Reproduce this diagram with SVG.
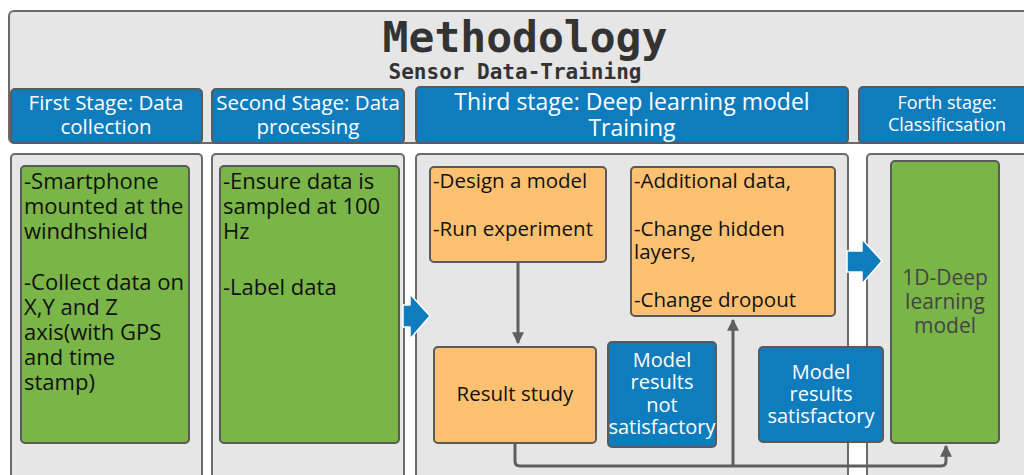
<svg xmlns="http://www.w3.org/2000/svg" width="1024" height="475" viewBox="0 0 1024 475">
  <style>
    .frame { fill: #e6e6e6; stroke: #6a6a6a; stroke-width: 2; }
    .head { fill: #0f7cbd; stroke: #5a5a5a; stroke-width: 2; }
    .head-t { fill: #ffffff; font-family: "Open Sans", "Liberation Sans", sans-serif; text-anchor: middle; }
    .green { fill: #7ab547; stroke: #5a5a5a; stroke-width: 2; }
    .orange { fill: #fec171; stroke: #5a5a5a; stroke-width: 2; }
    .blue { fill: #0f7cbd; stroke: #5a5a5a; stroke-width: 2; }
    .body-t { fill: #111111; font-family: "Open Sans", "Liberation Sans", sans-serif; font-size: 22px; }
    .step-t { fill: #111111; font-family: "Open Sans", "Liberation Sans", sans-serif; font-size: 20.5px; }
    .dark-t { fill: #444444; font-family: "Open Sans", "Liberation Sans", sans-serif; font-size: 21px; text-anchor: middle; }
    .blue-t { fill: #ffffff; font-family: "Open Sans", "Liberation Sans", sans-serif; font-size: 20px; text-anchor: middle; }
    .link { fill: none; stroke: #5f5f5f; stroke-width: 3; stroke-linejoin: round; }
    .chev { fill: #0f7cbd; stroke: #ffffff; stroke-width: 1.5; stroke-linejoin: round; }
  </style>
  <defs>
    <marker id="tip" viewBox="0 0 10 10" refX="9" refY="5" markerWidth="4" markerHeight="4.4" orient="auto" markerUnits="strokeWidth">
      <path d="M0,0 L10,5 L0,10 z" fill="#5f5f5f"/>
    </marker>
  </defs>

  <rect width="1024" height="475" fill="#ffffff"/>

  <!-- title frame -->
  <g id="title">
    <rect class="frame" x="9" y="11" width="1030" height="132" rx="5"/>
    <text x="525" y="52" text-anchor="middle" font-family="'DejaVu Sans Mono', 'Liberation Mono', monospace" font-weight="bold" font-size="43" fill="#333333">Methodology</text>
    <text x="515" y="79" text-anchor="middle" font-family="'DejaVu Sans Mono', 'Liberation Mono', monospace" font-weight="bold" font-size="21" fill="#333333">Sensor Data-Training</text>
  </g>

  <!-- stage headers -->
  <g id="stage1-head">
    <rect class="head" x="11" y="89" width="191" height="54" rx="4"/>
    <text class="head-t" font-size="20.5" x="106" y="110">First Stage: Data</text>
    <text class="head-t" font-size="20.5" x="106" y="134">collection</text>
  </g>
  <g id="stage2-head">
    <rect class="head" x="212" y="89" width="192" height="54" rx="4"/>
    <text class="head-t" font-size="20.5" x="308" y="110">Second Stage: Data</text>
    <text class="head-t" font-size="20.5" x="308" y="134">processing</text>
  </g>
  <g id="stage3-head">
    <rect class="head" x="416" y="87" width="432" height="56" rx="4"/>
    <text class="head-t" font-size="23" x="632" y="110">Third stage: Deep learning model</text>
    <text class="head-t" font-size="23" x="632" y="136">Training</text>
  </g>
  <g id="stage4-head">
    <rect class="head" x="859" y="87" width="180" height="56" rx="4"/>
    <text class="head-t" font-size="18" x="947" y="109">Forth stage:</text>
    <text class="head-t" font-size="18" x="947" y="131">Classificsation</text>
  </g>

  <!-- stage panels -->
  <g id="panel1">
    <rect class="frame" x="11" y="154" width="191" height="340" rx="4"/>
    <rect class="green" x="21" y="166" width="168" height="277" rx="4"/>
    <text class="body-t" x="24" y="189">-Smartphone</text>
    <text class="body-t" x="24" y="214">mounted at the</text>
    <text class="body-t" x="24" y="239">windhshield</text>
    <text class="body-t" x="24" y="290">-Collect data on</text>
    <text class="body-t" x="24" y="315">X,Y and Z</text>
    <text class="body-t" x="24" y="340">axis(with GPS</text>
    <text class="body-t" x="24" y="365">and time</text>
    <text class="body-t" x="24" y="390">stamp)</text>
  </g>
  <g id="panel2">
    <rect class="frame" x="212" y="154" width="192" height="340" rx="4"/>
    <rect class="green" x="220" y="166" width="179" height="277" rx="4"/>
    <text class="body-t" x="223" y="189">-Ensure data is</text>
    <text class="body-t" x="223" y="214">sampled at 100</text>
    <text class="body-t" x="223" y="239">Hz</text>
    <text class="body-t" x="223" y="295">-Label data</text>
  </g>
  <g id="panel3">
    <rect class="frame" x="416" y="154" width="432" height="340" rx="4"/>
  </g>
  <g id="panel4">
    <rect class="frame" x="867" y="154" width="180" height="340" rx="4"/>
  </g>

  <!-- training steps -->
  <g id="design">
    <rect class="orange" x="430" y="167" width="176" height="95" rx="4"/>
    <text class="step-t" x="433" y="188">-Design a model</text>
    <text class="step-t" x="433" y="236">-Run experiment</text>
  </g>
  <g id="tuning">
    <rect class="orange" x="631" y="167" width="204" height="149" rx="4"/>
    <text class="step-t" x="634" y="188">-Additional data,</text>
    <text class="step-t" x="634" y="236">-Change hidden</text>
    <text class="step-t" x="634" y="259">layers,</text>
    <text class="step-t" x="634" y="307">-Change dropout</text>
  </g>
  <g id="result">
    <rect class="orange" x="434" y="347" width="162" height="96" rx="4"/>
    <text class="step-t" x="515" y="401" text-anchor="middle">Result study</text>
  </g>
  <g id="not-ok">
    <rect class="blue" x="608" y="342" width="108" height="105" rx="4"/>
    <text class="blue-t" x="662" y="367">Model</text>
    <text class="blue-t" x="662" y="389">results</text>
    <text class="blue-t" x="662" y="412">not</text>
    <text class="blue-t" x="662" y="434">satisfactory</text>
  </g>
  <g id="ok">
    <rect class="blue" x="759" y="347" width="124" height="95" rx="4"/>
    <text class="blue-t" x="821" y="379">Model</text>
    <text class="blue-t" x="821" y="401">results</text>
    <text class="blue-t" x="821" y="423">satisfactory</text>
  </g>
  <g id="classifier">
    <rect class="green" x="891" y="161" width="108" height="282" rx="4"/>
    <text class="dark-t" x="945" y="285">1D-Deep</text>
    <text class="dark-t" x="945" y="309">learning</text>
    <text class="dark-t" x="945" y="333">model</text>
  </g>

  <!-- connectors -->
  <g id="connectors">
    <path class="link" d="M518,262 V343" marker-end="url(#tip)"/>
    <path class="link" d="M515,443 V461 Q515,466 520,466 H941 Q946,466 946,461 V446" marker-end="url(#tip)"/>
    <path class="link" d="M733,466 V320" marker-end="url(#tip)"/>
    <path class="chev" d="M403,305 H410 V294 L430,316 L410,339 V327 H403 Z"/>
    <path class="chev" d="M847,251 H862 V239 L882,261 L862,284 V272 H847 Z"/>
  </g>
</svg>
